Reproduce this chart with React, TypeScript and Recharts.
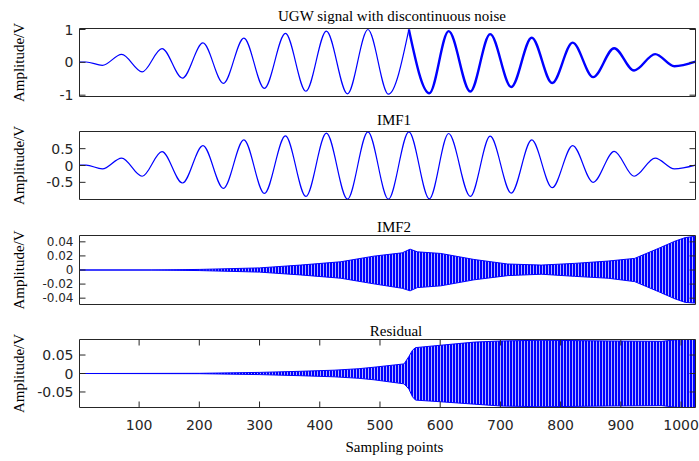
import { ComposedChart, Line, Area, XAxis, YAxis, ReferenceArea } from 'recharts';

// sample positions of the peaks/troughs shared by the tone burst panels
const extremaSamples = [
  1, 12, 39, 71, 105, 138, 172, 206, 240, 274, 308, 343, 377, 411, 446, 480, 514, 548,
  582, 614, 650, 683, 718, 752, 786, 820, 854, 889, 922, 957, 989, 1024,
];

// UGW signal with discontinuous noise (noise starts after ~550)
const ugwValues = [
  0.01, 0.01, -0.09, 0.24, -0.29, 0.42, -0.48, 0.59, -0.64, 0.74, -0.79, 0.88, -0.88, 0.95, -0.96, 1.0, -0.97, 1.0,
  -0.94, 0.95, -0.89, 0.86, -0.75, 0.75, -0.63, 0.6, -0.45, 0.43, -0.25, 0.25, -0.12, 0.02,
];
const NOISE_START = 548;

// IMF1
const imf1Values = [
  0.01, 0.01, -0.1, 0.22, -0.32, 0.41, -0.52, 0.59, -0.68, 0.76, -0.83, 0.88, -0.92, 0.96, -1.0, 1.0, -1.0, 1.0,
  -0.99, 0.95, -0.92, 0.87, -0.82, 0.76, -0.66, 0.59, -0.5, 0.42, -0.32, 0.22, -0.1, 0.01,
];

// IMF2 envelope
const imf2Samples = [1, 120, 200, 300, 368, 435, 490, 537, 550, 562, 601, 656, 712, 768, 823, 879, 923, 962, 990, 1007, 1024];
const imf2Upper = [0, 0, 0.0008, 0.003, 0.007, 0.0117, 0.0197, 0.0244, 0.0296, 0.0258, 0.0235, 0.015, 0.0085, 0.007, 0.0094, 0.0127, 0.0165, 0.0305, 0.041, 0.046, 0.048];
const imf2Lower = [0, 0, -0.0008, -0.003, -0.007, -0.0117, -0.0197, -0.026, -0.0296, -0.025, -0.0225, -0.014, -0.008, -0.006, -0.009, -0.0117, -0.0165, -0.0305, -0.041, -0.046, -0.047];

// Residual envelope
const resSamples = [1, 200, 300, 368, 424, 465, 490, 540, 548, 554, 559, 601, 657, 701, 768, 879, 968, 985, 996, 1024];
const resUpper = [0, 0.0005, 0.003, 0.006, 0.009, 0.013, 0.017, 0.026, 0.046, 0.063, 0.07, 0.0765, 0.085, 0.088, 0.09, 0.088, 0.087, 0.09, 0.092, 0.092];
const resLower = [0, -0.0005, -0.003, -0.006, -0.009, -0.013, -0.017, -0.028, -0.042, -0.063, -0.072, -0.0765, -0.083, -0.088, -0.09, -0.088, -0.087, -0.09, -0.092, -0.092];

const sampleTicks = [100, 200, 300, 400, 500, 600, 700, 800, 900, 1000];

const W = 699;
const H = 461;
const PLOT_LEFT = 79.5;
const PLOT_RIGHT = 695.5;
const PLOT_W = PLOT_RIGHT - PLOT_LEFT;
const TICK_LEN = 6;
const AXIS_COLOR = '#262626';
const BLUE = '#0000ff';
const TICK_FONT = { fontFamily: '"DejaVu Sans", sans-serif', fontSize: 14, fill: AXIS_COLOR };
const SERIF = { fontFamily: '"Liberation Serif", "Times New Roman", serif', fontSize: 15, fill: '#000' };

const ugwClean = extremaSamples
  .map((x, i) => ({ x, y: ugwValues[i] }))
  .filter((d) => d.x <= NOISE_START);
const ugwNoisy = extremaSamples
  .map((x, i) => ({ x, y: ugwValues[i] }))
  .filter((d) => d.x >= NOISE_START);
const imf1Data = extremaSamples.map((x, i) => ({ x, y: imf1Values[i] }));
const imf2Data = imf2Samples.map((x, i) => ({ x, range: [imf2Lower[i], imf2Upper[i]] }));
const resData = resSamples.map((x, i) => ({ x, range: [resLower[i], resUpper[i]] }));

function makeYTick(fontSize: number) {
  return (props: any) => {
    const { x, y, payload } = props;
    return (
      <g>
        <line x1={x} x2={x + TICK_LEN} y1={y} y2={y} stroke={AXIS_COLOR} />
        <line x1={x + PLOT_W - TICK_LEN} x2={x + PLOT_W} y1={y} y2={y} stroke={AXIS_COLOR} />
        <text x={x - 6} y={y} dy="0.36em" textAnchor="end" {...TICK_FONT} fontSize={fontSize}>
          {payload.value}
        </text>
      </g>
    );
  };
}

function makeXTick(plotH: number) {
  return (props: any) => {
    const { x, y, payload } = props;
    return (
      <g>
        <line x1={x} x2={x} y1={y} y2={y - TICK_LEN} stroke={AXIS_COLOR} />
        <line x1={x} x2={x} y1={y - plotH} y2={y - plotH + TICK_LEN} stroke={AXIS_COLOR} />
        <text x={x} y={y + 22.5} textAnchor="middle" {...TICK_FONT}>
          {payload.value}
        </text>
      </g>
    );
  };
}

interface PanelProps {
  top: number;
  bottom: number;
  domain: [number, number];
  ticks: number[];
  tickFontSize?: number;
  showX?: boolean;
  children: React.ReactNode;
}

function Panel({ top, bottom, domain, ticks, tickFontSize = 14, showX, children }: PanelProps) {
  const xAxisH = 30;
  return (
    <div style={{ position: 'absolute', left: 0, top: 0 }}>
      <ComposedChart
        width={W}
        height={H}
        margin={{ top, right: W - PLOT_RIGHT, left: 0, bottom: H - bottom - (showX ? xAxisH : 0) }}
      >
        <XAxis
          type="number"
          dataKey="x"
          domain={[1, 1024]}
          allowDataOverflow
          ticks={sampleTicks}
          hide={!showX}
          height={xAxisH}
          axisLine={false}
          tickLine={false}
          tickSize={0}
          tickMargin={0}
          tick={makeXTick(bottom - top)}
          interval={0}
        />
        <YAxis
          type="number"
          domain={domain}
          allowDataOverflow
          ticks={ticks}
          width={PLOT_LEFT}
          axisLine={false}
          tickLine={false}
          tickSize={0}
          tickMargin={0}
          tick={makeYTick(tickFontSize)}
          interval={0}
        />
        {children}
        <ReferenceArea
          x1={1}
          x2={1024}
          y1={domain[0]}
          y2={domain[1]}
          fill="none"
          stroke={AXIS_COLOR}
          strokeWidth={1}
          fillOpacity={0}
          ifOverflow="visible"
        />
      </ComposedChart>
    </div>
  );
}

const titles = [
  { text: 'UGW signal with discontinuous noise', x: 392, y: 20.7 },
  { text: 'IMF1', x: 394, y: 125 },
  { text: 'IMF2', x: 394, y: 231.7 },
  { text: 'Residual', x: 396, y: 335.5 },
];
const yLabelCenters = [62.5, 165.5, 270, 373.5];

export default function App() {
  return (
    <div style={{ position: 'absolute', left: 0, top: 0, width: W, height: H, background: '#fff', overflow: 'hidden' }}>
      <svg width={0} height={0} style={{ position: 'absolute' }}>
        <defs>
          <pattern id="denseStripes" width="3" height="6" patternUnits="userSpaceOnUse">
            <rect x="0" y="0" width="2.3" height="6" fill={BLUE} />
          </pattern>
        </defs>
      </svg>

      <Panel top={28.5} bottom={96.5} domain={[-1.04, 1.03]} ticks={[-1, 0, 1]}>
        <Line data={ugwClean} dataKey="y" type="monotone" stroke={BLUE} strokeWidth={1.2} dot={false} isAnimationActive={false} />
        <Line data={ugwNoisy} dataKey="y" type="monotone" stroke={BLUE} strokeWidth={2.4} dot={false} isAnimationActive={false} />
      </Panel>

      <Panel top={131.5} bottom={199.5} domain={[-1.01, 1.01]} ticks={[-0.5, 0, 0.5]}>
        <Line data={imf1Data} dataKey="y" type="monotone" stroke={BLUE} strokeWidth={1.2} dot={false} isAnimationActive={false} />
      </Panel>

      <Panel top={235.5} bottom={304.5} domain={[-0.049, 0.049]} ticks={[-0.04, -0.02, 0, 0.02, 0.04]} tickFontSize={12}>
        <Area data={imf2Data} dataKey="range" type="linear" stroke={BLUE} strokeWidth={1} fill="url(#denseStripes)" fillOpacity={1} dot={false} activeDot={false} isAnimationActive={false} />
      </Panel>

      <Panel top={339.5} bottom={407.5} domain={[-0.092, 0.092]} ticks={[-0.05, 0, 0.05]} showX>
        <Area data={resData} dataKey="range" type="linear" stroke={BLUE} strokeWidth={1} fill="url(#denseStripes)" fillOpacity={1} dot={false} activeDot={false} isAnimationActive={false} />
      </Panel>

      <svg width={W} height={H} style={{ position: 'absolute', left: 0, top: 0, pointerEvents: 'none' }}>
        {titles.map((t) => (
          <text key={t.text} x={t.x} y={t.y} textAnchor="middle" {...SERIF}>
            {t.text}
          </text>
        ))}
        {yLabelCenters.map((cy, i) => (
          <text key={i} x={24} y={cy} textAnchor="middle" transform={`rotate(-90, 24, ${cy})`} {...SERIF}>
            Amplitude/V
          </text>
        ))}
        <text x={394.5} y={452} textAnchor="middle" {...SERIF}>
          Sampling points
        </text>
      </svg>
    </div>
  );
}
